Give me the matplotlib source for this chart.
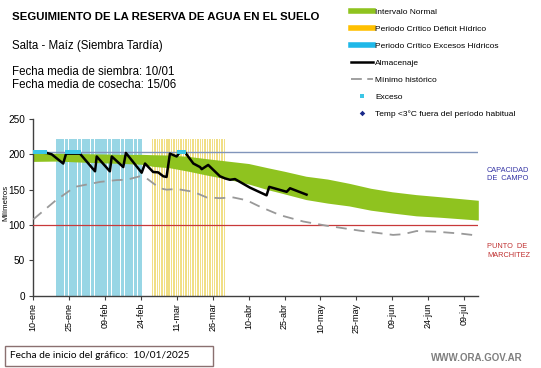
import numpy as np
import matplotlib
matplotlib.use("Agg")
import matplotlib.pyplot as plt
from matplotlib.lines import Line2D
from matplotlib.patches import Rectangle

plt.rcParams['font.family'] = ['Liberation Sans', 'DejaVu Sans']

# ---------------- data (x = days since 10-ene-2025) ----------------
tick_days = [0, 15, 30, 45, 60, 75, 90, 105, 120, 135, 150, 165, 180]
tick_labels = ["10-ene", "25-ene", "09-feb", "24-feb", "11-mar", "26-mar", "10-abr",
               "25-abr", "10-may", "25-may", "09-jun", "24-jun", "09-jul"]

band_days = [0, 10, 20, 38, 45, 50, 57, 65, 72, 81, 90, 98, 105, 114, 123, 132, 141, 150, 160, 170, 186]
band_upper = [202, 201.5, 201, 200, 200, 199.5, 199, 197, 194, 190.5, 187, 181, 176, 169, 165, 159, 152, 147, 143, 140, 135]
band_lower = [190, 190.5, 189, 187, 186, 183, 181, 176, 171, 165, 158, 150, 144, 136, 131, 127, 121, 117, 113, 111, 107]

storage_days = [0, 5.6, 7.7, 12.5, 13.7, 19.5, 25.8, 26.5, 32, 32.8, 37.6, 38.7, 45.3, 46.7, 50.1, 52.2,
                54.3, 55.7, 57.1, 59.9, 61.3, 63.4, 66.9, 69.7, 70.4, 73.1, 78, 80.1, 82.2, 84.3, 90.5,
                97.5, 98.6, 105.9, 107.3, 114.2]
storage_vals = [203, 202, 200, 187, 201, 201, 176, 197, 176, 197, 182, 202, 174, 187, 175, 174.5,
                169, 168, 201, 197, 203, 203, 187, 182, 179, 185, 169, 166, 164, 165, 153,
                142, 154, 147, 152, 143]

min_days = [0, 9.1, 17.4, 27.9, 34.9, 39, 44.6, 47.4, 52.9, 55.7, 59.9, 66.9, 72.5, 78, 83.6, 89.2,
            94.7, 103.1, 112.8, 122.6, 136.5, 150.4, 154.6, 160.2, 168.6, 178.3, 186]
min_vals = [108, 134, 154, 161, 163.6, 164, 169, 166, 152, 150, 151, 147, 139, 138, 139, 135,
            126, 114, 105, 99, 92, 86, 87, 91.5, 90.5, 88, 85]

exceso_days = [0, 1, 2, 3, 4, 5, 14, 15, 16, 17, 18, 19, 61, 62, 63]
exceso_vals = [203] * len(exceso_days)

excess_period = (9.5, 45.3)    # Periodo crítico excesos hídricos
deficit_period = (49.5, 80.1)  # Periodo crítico déficit hídrico
period_top = 222

capacidad_campo = 203
punto_marchitez = 100

# ---------------- figure ----------------
W, H = 541, 368
fig = plt.figure(figsize=(W / 100, H / 100), dpi=100)
fig.patch.set_facecolor('white')

def fx(x):
    return x / W

def fy(y):
    return 1 - y / H

ax = fig.add_axes([fx(33.3), fy(295.7), fx(478.3) - fx(33.3), fy(119) - fy(295.7)])
ax.set_xlim(0, 186)
ax.set_ylim(0, 250)

# critical period stripes
ex_x = np.arange(excess_period[0] + 0.8, excess_period[1], 1.8)
ax.bar(ex_x, [period_top] * len(ex_x), width=1.55, color='#98d6e5', linewidth=0, zorder=1)
de_x = np.arange(deficit_period[0] + 0.3, deficit_period[1], 1.0)
ax.bar(de_x, [period_top] * len(de_x), width=0.6, color='#f1df85', linewidth=0, zorder=1)

# normal interval band
ax.fill_between(band_days, band_lower, band_upper, color='#8fc31f', linewidth=0, zorder=2)

# reference lines
ax.axhline(capacidad_campo, color='#8195bb', linewidth=1.0, zorder=3)
ax.axhline(punto_marchitez, color='#c8393a', linewidth=0.9, zorder=3)

# minimum historic
ax.plot(min_days, min_vals, color='#999999', linewidth=1.3, dashes=(6, 4), zorder=4)

# storage
ax.plot(storage_days, storage_vals, color='black', linewidth=1.8, zorder=5)

# exceso markers
ax.plot(exceso_days, exceso_vals, linestyle='none', marker='s', markersize=2.6,
        color='#3cc6e6', markeredgewidth=0, zorder=6)

# axes styling
for s in ['top', 'right']:
    ax.spines[s].set_visible(False)
for s in ['left', 'bottom']:
    ax.spines[s].set_color('#404040')
    ax.spines[s].set_linewidth(1.0)

ax.set_xticks(tick_days)
ax.set_xticklabels(tick_labels, rotation=90, fontsize=6.5)
ax.set_yticks([0, 50, 100, 150, 200, 250])
ax.tick_params(axis='y', labelsize=7.2, length=3, width=0.8, color='#404040', pad=3)
ax.tick_params(axis='x', length=3, width=0.8, color='#404040', pad=2)

fig.text(fx(6), fy(203), "Milímetros", rotation=90, fontsize=5.6, ha='center', va='center')

# texts
fig.text(fx(12), fy(16.5), "SEGUIMIENTO DE LA RESERVA DE AGUA EN EL SUELO", fontsize=8.2,
         fontweight='bold', ha='left', va='center')
fig.text(fx(12), fy(46), "Salta - Maíz (Siembra Tardía)", fontsize=8.3, ha='left', va='center')
fig.text(fx(12), fy(72), "Fecha media de siembra: 10/01", fontsize=8.3, ha='left', va='center')
fig.text(fx(12), fy(85), "Fecha media de cosecha: 15/06", fontsize=8.3, ha='left', va='center')

fig.text(fx(487), fy(174.5), "CAPACIDAD\nDE  CAMPO", fontsize=5.3, color='#3535a5',
         ha='left', va='center', linespacing=1.25)
fig.text(fx(487), fy(251), "PUNTO  DE\nMARCHITEZ", fontsize=5.3, color='#c03030',
         ha='left', va='center', linespacing=1.25)

# bottom box
fig.patches.append(Rectangle((fx(5), fy(366)), fx(213) - fx(5), fy(346) - fy(366),
                             transform=fig.transFigure, fill=False, edgecolor='#8a7070',
                             linewidth=1.0))
fig.text(fx(10), fy(356), "Fecha de inicio del gráfico:  10/01/2025", fontsize=7.3,
         family=['Lato', 'DejaVu Sans'], ha='left', va='center')
fig.text(fx(523), fy(358), "WWW.ORA.GOV.AR", fontsize=7.0, fontweight='bold', color='#7f7f7f',
         ha='right', va='center')

# legend
handles = [
    Line2D([0], [0], color='#8fc31f', linewidth=4),
    Line2D([0], [0], color='#ffc000', linewidth=4),
    Line2D([0], [0], color='#1fb8e8', linewidth=4),
    Line2D([0], [0], color='black', linewidth=1.8),
    Line2D([0], [0], color='#999999', linewidth=1.3, dashes=(6, 3)),
    Line2D([0], [0], linestyle='none', marker='s', markersize=2.5, color='#3cc6e6', markeredgewidth=0),
    Line2D([0], [0], linestyle='none', marker='D', markersize=2.8, color='#1a2a8a', markeredgewidth=0),
]
labels = ["Intervalo Normal", "Periodo Crítico Déficit Hídrico", "Periodo Crítico Excesos Hídricos",
          "Almacenaje", "Mínimo histórico", "Exceso", "Temp <3°C fuera del período habitual"]
fig.legend(handles, labels, loc='upper left', bbox_to_anchor=(fx(351), fy(8.5)),
           frameon=False, fontsize=6.0, handlelength=2.6, handletextpad=0.3,
           labelspacing=1.1, borderpad=0, borderaxespad=0)

fig.savefig("out.png", dpi=100, facecolor='white')
